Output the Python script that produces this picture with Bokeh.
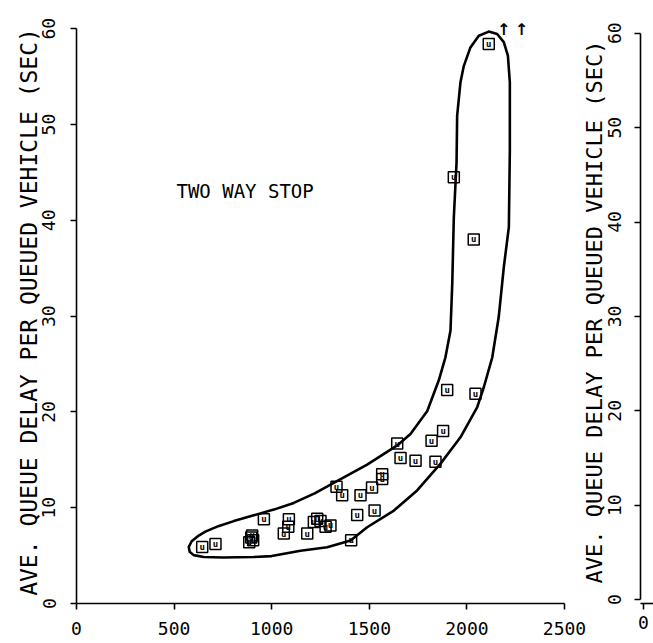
from bokeh.plotting import figure
from bokeh.layouts import row
from bokeh.models import Range1d, FixedTicker, LinearAxis
from bokeh.core.properties import value
from bokeh.embed import file_html
from bokeh.resources import INLINE

# data points (volume, delay)
vol = [644, 712, 885, 895, 905, 900, 960, 1062, 1085, 1088, 1182, 1216, 1233, 1250,
       1276, 1301, 1332, 1361, 1407, 1438, 1455, 1514, 1527, 1566, 1566, 1643, 1660,
       1737, 1819, 1839, 1878, 1899, 2044, 1933, 2035, 2112]
delay = [5.9, 6.2, 6.4, 6.9, 6.6, 7.1, 8.8, 7.3, 8.0, 8.8, 7.3, 8.5, 8.85, 8.6,
         8.0, 8.15, 12.2, 11.3, 6.6, 9.25, 11.3, 12.1, 9.7, 13.0, 13.5, 16.7, 15.2,
         14.9, 17.0, 14.8, 18.0, 22.3, 21.9, 44.5, 38.0, 58.4]

# envelope outline
env_x = [575, 590, 620, 660, 730, 806, 908, 1011, 1113, 1220, 1318, 1489, 1643, 1711, 1797,
         1856, 1890, 1916, 1925, 1933, 1947, 1950, 1967, 1984, 2018, 2061, 2112, 2155, 2189,
         2210, 2220, 2220, 2215, 2189, 2163, 2130, 2087, 2053, 1967, 1865, 1745, 1626, 1489,
         1404, 1284, 1148, 1000, 908, 750, 652, 600, 580, 575]
env_y = [5.9, 6.5, 7.0, 7.5, 8.1, 8.6, 9.2, 9.8, 10.5, 11.5, 12.6, 14.5, 16.5, 17.7, 20.1,
         23.3, 25.7, 28.5, 33.4, 40.3, 46.05, 50.9, 54.4, 56.1, 58.05, 59.27, 59.7, 59.45, 58.6,
         57.2, 54.4, 47.3, 39.3, 35.1, 29.9, 25.7, 22.6, 20.5, 17.35, 14.6, 11.8, 9.7, 7.96,
         6.57, 5.87, 5.5, 4.95, 4.85, 4.8, 4.85, 5.05, 5.4, 5.9]

# off-scale arrows
arrow_x = [2189, 2280]
arrow_y = [59.9, 59.9]

x_ticks = [0, 500, 1000, 1500, 2000, 2500]
y_ticks = [0, 10, 20, 30, 40, 50, 60]
y_title = "AVE. QUEUE DELAY PER QUEUED VEHICLE (SEC)"
note = "TWO WAY STOP"

MONO = "DejaVu Sans Mono"


def style_axis(ax):
    ax.axis_line_width = 1.6
    ax.axis_line_color = "black"
    ax.major_tick_line_color = "black"
    ax.major_tick_line_width = 1.6
    ax.major_tick_in = 0
    ax.major_tick_out = 6
    ax.minor_tick_line_color = None
    ax.major_label_text_font = MONO
    ax.major_label_text_color = "black"
    ax.major_label_text_font_size = "18px"


p = figure(width=590, height=643, output_backend="svg", toolbar_location=None,
           x_range=Range1d(0, (590 - 76) / 0.1952), y_range=Range1d(0, 60.86),
           min_border_left=76, min_border_right=0, min_border_top=20, min_border_bottom=40,
           x_axis_location=None, y_axis_location=None)
p.outline_line_color = None
p.xgrid.visible = False
p.ygrid.visible = False

xa = LinearAxis(ticker=FixedTicker(ticks=x_ticks), bounds=(0, 2500))
ya = LinearAxis(ticker=FixedTicker(ticks=y_ticks), bounds=(0, 60), axis_label=y_title)
style_axis(xa)
style_axis(ya)
xa.major_label_standoff = 12
ya.major_label_standoff = 15
ya.major_label_orientation = "vertical"
ya.axis_label_text_font = MONO
ya.axis_label_text_font_size = "23px"
ya.axis_label_text_font_style = "normal"
ya.axis_label_text_color = "black"
ya.axis_label_standoff = -2
p.add_layout(xa, "below")
p.add_layout(ya, "left")

p.patch(env_x, env_y, fill_color=None, line_color="black", line_width=2.6, line_join="round")
p.scatter(vol, delay, marker="square", size=11, fill_color="white", fill_alpha=0.0,
          line_color="black", line_width=1.5)
p.text(x=vol, y=delay, text=["u"] * len(vol), text_font=value(MONO), text_font_size="9px",
       text_font_style="bold", text_align="center", text_baseline="middle", text_color="black")
p.text(x=[512], y=[43.1], text=[note], text_font=value(MONO), text_font_size="19px",
       text_align="left", text_baseline="middle", text_color="black")
p.text(x=arrow_x, y=arrow_y, text=["\u2191", "\u2191"], text_font=value("DejaVu Sans"),
       text_font_size="16px", text_font_style="bold", text_align="center",
       text_baseline="middle", text_color="black")

# partial second panel on the right
q = figure(width=75, height=643, output_backend="svg", toolbar_location=None,
           x_range=Range1d(-3, 10), y_range=Range1d(-0.415, 61.35),
           min_border_left=62, min_border_right=0, min_border_top=20, min_border_bottom=28,
           x_axis_location=None, y_axis_location=None)
q.outline_line_color = None
q.xgrid.visible = False
q.ygrid.visible = False
q.border_fill_alpha = 0.0
q.background_fill_alpha = 0.0
q.styles = {"margin-left": "-12px"}
qx = LinearAxis(ticker=FixedTicker(ticks=[0]))
qy = LinearAxis(ticker=FixedTicker(ticks=y_ticks), bounds=(0, 60), axis_label=y_title)
style_axis(qx)
style_axis(qy)
qx.major_label_standoff = 6
qy.major_label_standoff = 13
qy.major_label_orientation = "vertical"
qy.axis_label_text_font = MONO
qy.axis_label_text_font_size = "22px"
qy.axis_label_text_font_style = "normal"
qy.axis_label_text_color = "black"
qy.axis_label_standoff = -1
q.add_layout(qx, "below")
q.add_layout(qy, "left")
q.scatter([0], [0], size=0, alpha=0)

layout = row(p, q, spacing=0)
open("out.html", "w").write(file_html(layout, INLINE))
